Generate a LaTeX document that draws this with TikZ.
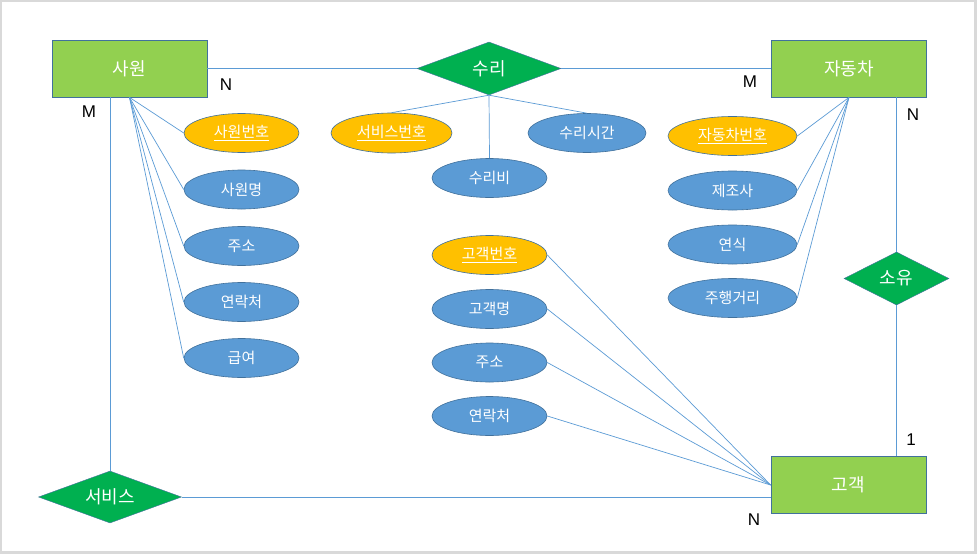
\documentclass[tikz,border=0pt]{standalone}
\usepackage{fontspec}
\setmainfont{Liberation Sans}
\newfontfamily\korfont{Noto Sans CJK KR}
\usetikzlibrary{shapes.geometric}
\definecolor{entityGreen}{HTML}{92D050}
\definecolor{relGreen}{HTML}{00B050}
\definecolor{attrBlue}{HTML}{5B9BD5}
\definecolor{keyOrange}{HTML}{FFC000}
\definecolor{outlineBlue}{HTML}{41719C}

\begin{document}
\begin{tikzpicture}[x=1pt,y=-1pt,
  entity/.style={draw=outlineBlue, fill=entityGreen, line width=0.8pt, minimum width=155pt, minimum height=57pt, text=white, font=\korfont\fontsize{18}{20}\selectfont},
  relation/.style={diamond, draw=outlineBlue, fill=relGreen, line width=0.4pt, inner sep=0pt, text=white, font=\korfont\fontsize{18}{20}\selectfont},
  attr/.style={ellipse, draw=outlineBlue, fill=attrBlue, line width=0.6pt, minimum width=115pt, minimum height=39pt, inner sep=0pt, text=white, font=\korfont\fontsize{15}{17}\selectfont},
  keyattr/.style={attr, fill=keyOrange},
  link/.style={draw=attrBlue, line width=0.7pt},
  card/.style={font=\fontsize{17}{20}\selectfont}]
  \useasboundingbox (0,0) rectangle (977,554);
  \fill[gray!30] (0,0) rectangle (977,554);
  \fill[white] (2,2) rectangle (974,551);

  % Entities and relations
  \node[entity] (employee) at (129.5,68.5) {사원};
  \node[entity] (car) at (849,68.5) {자동차};
  \node[entity] (customer) at (848.5,485) {고객};
  \node[relation, aspect=2.7, minimum width=144pt, minimum height=53pt] (repair) at (489,68.5) {수리};
  \node[relation, aspect=2, minimum width=105pt, minimum height=53pt] (own) at (896.5,278.5) {소유};
  \node[relation, aspect=2.65, minimum width=143pt, minimum height=52pt] (service) at (110,497) {서비스};

  \draw[link] (employee.east) -- (repair.west);
  \draw[link] (repair.east) -- (car.west);
  \draw[link] (service.north) -- (service.north |- employee.south);
  \draw[link] (own.north) -- (own.north |- car.south);
  \draw[link] (own.south) -- (own.south |- customer.north);
  \draw[link] (service.east) -- (service.east -| customer.west);

  % Employee attributes
  \node[keyattr] (empId) at (241.5,133) {\underline{사원번호}};
  \draw[link] (employee.south) -- (empId.west);
  \foreach \y/\id/\txt in {189.5/empName/사원명, 246/empAddr/주소, 302/empPhone/연락처, 358/empPay/급여} {
    \node[attr] (\id) at (241.5,\y) {\txt};
    \draw[link] (employee.south) -- (\id.west);
  }

  % Repair attributes
  \node[keyattr, minimum width=121pt, minimum height=40pt] (svcNo) at (391.5,133) {\underline{서비스번호}};
  \node[attr, minimum width=118pt] (repTime) at (587,133) {수리시간};
  \node[attr] (repCost) at (489.5,178) {수리비};
  \foreach \id in {svcNo, repTime, repCost} {
    \draw[link] (repair.south) -- (\id.north);
  }

  % Car attributes
  \node[keyattr, minimum width=129pt] (carNo) at (732.5,136) {\underline{자동차번호}};
  \draw[link] (car.south) -- (carNo.east);
  \foreach \y/\id/\txt in {190.5/carMaker/제조사, 244.5/carYear/연식, 298/carMileage/주행거리} {
    \node[attr, minimum width=129pt] (\id) at (732.5,\y) {\txt};
    \draw[link] (car.south) -- (\id.east);
  }

  % Customer attributes
  \node[keyattr] (custId) at (489.5,255) {\underline{고객번호}};
  \draw[link] (customer.west) -- (custId.east);
  \foreach \y/\id/\txt in {309/custName/고객명, 362.5/custAddr/주소, 416/custPhone/연락처} {
    \node[attr] (\id) at (489.5,\y) {\txt};
    \draw[link] (customer.west) -- (\id.east);
  }

  % Cardinalities
  \node[card] (cardEmpRepair) at (226,85) {N};
  \node[card] (cardCarRepair) at (750,82) {M};
  \node[card] (cardEmpService) at (89,112) {M};
  \node[card] (cardCarOwn) at (913,115) {N};
  \node[card] (cardCustOwn) at (911,440) {1};
  \node[card] (cardCustService) at (754,520) {N};
\end{tikzpicture}
\end{document}
